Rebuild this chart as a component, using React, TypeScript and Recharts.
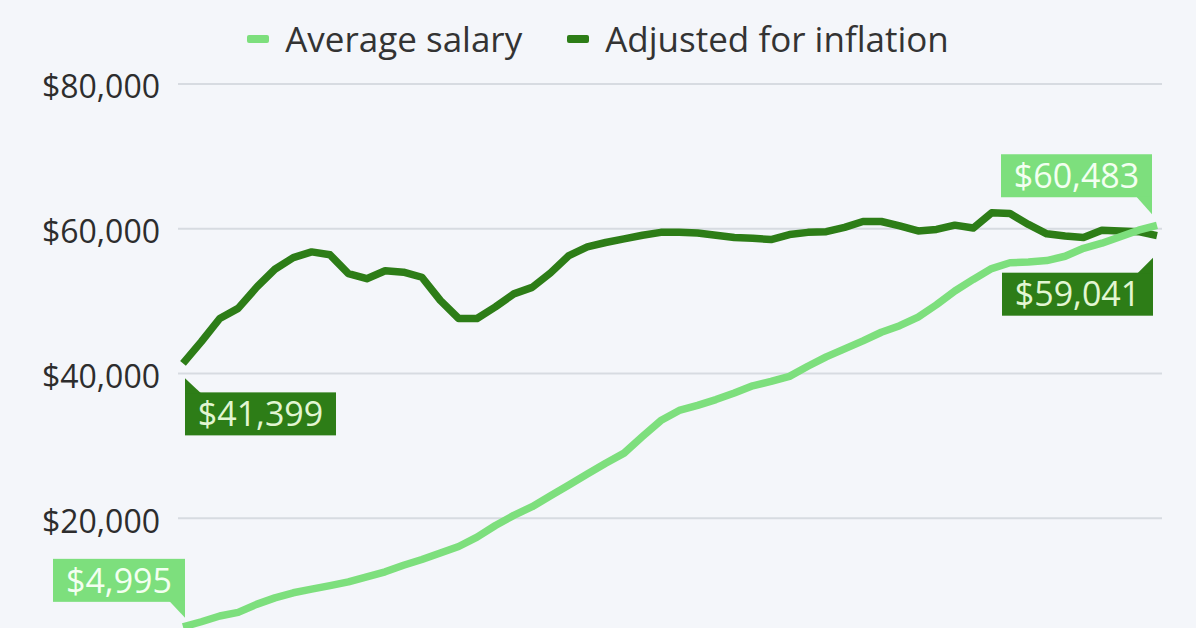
import { LineChart, Line, XAxis, YAxis, CartesianGrid, Legend, LabelList } from 'recharts'

// school years, 1959-60 to 2017-18 (biennial until 1969-70)
const years = [
  '1959-60', '1961-62', '1963-64', '1965-66', '1967-68', '1969-70', '1970-71', '1971-72',
  '1972-73', '1973-74', '1974-75', '1975-76', '1976-77', '1977-78', '1978-79', '1979-80',
  '1980-81', '1981-82', '1982-83', '1983-84', '1984-85', '1985-86', '1986-87', '1987-88',
  '1988-89', '1989-90', '1990-91', '1991-92', '1992-93', '1993-94', '1994-95', '1995-96',
  '1996-97', '1997-98', '1998-99', '1999-00', '2000-01', '2001-02', '2002-03', '2003-04',
  '2004-05', '2005-06', '2006-07', '2007-08', '2008-09', '2009-10', '2010-11', '2011-12',
  '2012-13', '2013-14', '2014-15', '2015-16', '2016-17', '2017-18',
]

const averageSalary = [
  4995, 5700, 6500, 7000, 8100, 9000, 9700, 10200, 10700, 11200, 11900, 12600, 13500,
  14300, 15200, 16100, 17400, 19000, 20400, 21600, 23100, 24600, 26100, 27600, 29000,
  31300, 33500, 34900, 35600, 36400, 37300, 38300, 38900, 39600, 41000, 42300, 43400,
  44500, 45700, 46600, 47800, 49500, 51400, 53000, 54500, 55300, 55400, 55600, 56200,
  57300, 58000, 58900, 59800, 60483,
]

const adjustedSalary = [
  41399, 44400, 47600, 49000, 51900, 54400, 56000, 56800, 56400, 53800, 53100, 54200,
  54000, 53300, 50100, 47600, 47600, 49200, 51000, 51900, 53900, 56300, 57500, 58100,
  58600, 59100, 59500, 59500, 59400, 59100, 58800, 58700, 58500, 59200, 59500, 59600,
  60200, 61000, 61000, 60400, 59700, 59900, 60500, 60100, 62200, 62100, 60600, 59300,
  59000, 58800, 59800, 59700, 59600, 59041,
]

// $0 sits below the visible area, so only these labels show
const yTicks = [20000, 40000, 60000, 80000]

const LIGHT = '#7ddf7d'
const DARK = '#2d7d17'
const FONT = '"Open Sans", sans-serif'

const data = years.map((year, i) => ({
  year,
  salary: averageSalary[i],
  adjusted: adjustedSalary[i],
}))

const fmt = (v: number) => '$' + v.toLocaleString('en-US')

type CalloutCfg = { edge: 'left' | 'right'; dx: number; above: boolean; gap: number; tip: number }

function Callout({ x, y, text, fill, color, cfg }: { x: number; y: number; text: string; fill: string; color: string; cfg: CalloutCfg }) {
  const w = text.length * 19 + 18
  const h = 43
  const ex = x + cfg.dx
  const bx = cfg.edge === 'right' ? ex - w : ex
  const by = cfg.above ? y - cfg.gap - h : y + cfg.gap
  const baseY = cfg.above ? by + h - 1 : by + 1
  const tipY = cfg.above ? y - cfg.tip : y + cfg.tip
  const inner = cfg.edge === 'right' ? ex - 16 : ex + 16
  return (
    <g>
      <rect x={bx} y={by} width={w} height={h} fill={fill} />
      <polygon points={`${ex},${baseY} ${ex},${tipY} ${inner},${baseY}`} fill={fill} />
      <text
        x={bx + w / 2}
        y={by + h / 2}
        dy="0.36em"
        textAnchor="middle"
        fill={color}
        fontSize={34}
        fontFamily={FONT}
      >
        {text}
      </text>
    </g>
  )
}

// only the first and the last point get a callout
const makeLabel = (values: number[], fill: string, color: string, first: CalloutCfg, last: CalloutCfg) =>
  (props: any) => {
    const x = props.x ?? props.viewBox?.x
    const y = props.y ?? props.viewBox?.y
    let idx = props.index
    if (idx === undefined) idx = values.indexOf(props.value)
    if (idx !== 0 && idx !== values.length - 1) return null
    const cfg = idx === 0 ? first : last
    return <Callout x={x} y={y} text={fmt(values[idx])} fill={fill} color={color} cfg={cfg} />
  }

const YTick = ({ x, y, payload }: any) => (
  <text x={x} y={y + 3} dy="0.355em" textAnchor="end" fill="#2d2d2d" fontSize={32} fontFamily={FONT}>
    {fmt(payload.value)}
  </text>
)

const legendItems = [
  { label: 'Average salary', color: LIGHT },
  { label: 'Adjusted for inflation', color: DARK },
]

const renderLegend = () => (
  <div
    style={{
      height: 84,
      display: 'flex',
      justifyContent: 'center',
      alignItems: 'flex-start',
      paddingTop: 16,
      boxSizing: 'border-box',
      fontFamily: FONT,
      fontSize: 35,
      color: '#333',
      lineHeight: '46px',
    }}
  >
    {legendItems.map((item, i) => (
      <div key={item.label} style={{ display: 'flex', alignItems: 'center', marginLeft: i ? 45 : 0 }}>
        <span style={{ width: 22, height: 8, borderRadius: 2, background: item.color, marginRight: 16 }} />
        <span>{item.label}</span>
      </div>
    ))}
  </div>
)

export default function App() {
  return (
    <div
      style={{
        position: 'absolute',
        left: 0,
        top: 0,
        width: 1196,
        height: 628,
        overflow: 'hidden',
        background: '#f4f6fa',
      }}
    >
      <LineChart width={1196} height={680} data={data} margin={{ top: 0, right: 34, bottom: 17, left: 0 }}>
        <CartesianGrid vertical={false} stroke="#d7dbe1" strokeWidth={2} />
        <XAxis dataKey="year" hide padding={{ left: 5, right: 5 }} />
        <YAxis
          domain={[0, 80000]}
          ticks={yTicks}
          interval={0}
          width={178}
          axisLine={false}
          tickLine={false}
          tickMargin={12}
          tick={<YTick />}
        />
        <Legend verticalAlign="top" content={renderLegend} wrapperStyle={{ left: 0, width: 1196 }} />
        <Line
          dataKey="adjusted"
          stroke={DARK}
          strokeWidth={7.5}
          strokeLinejoin="round"
          dot={false}
          activeDot={false}
          isAnimationActive={false}
        >
          <LabelList
            dataKey="adjusted"
            content={makeLabel(
              adjustedSalary,
              DARK,
              '#e2f6d2',
              { edge: 'left', dx: 2, above: false, gap: 29, tip: 15 },
              { edge: 'right', dx: -4, above: false, gap: 37, tip: 22 },
            )}
          />
        </Line>
        <Line
          dataKey="salary"
          stroke={LIGHT}
          strokeWidth={7.5}
          strokeLinejoin="round"
          dot={false}
          activeDot={false}
          isAnimationActive={false}
        >
          <LabelList
            dataKey="salary"
            content={makeLabel(
              averageSalary,
              LIGHT,
              '#f3fff1',
              { edge: 'right', dx: 2, above: true, gap: 25, tip: 9 },
              { edge: 'right', dx: -5, above: true, gap: 28, tip: 11 },
            )}
          />
        </Line>
      </LineChart>
    </div>
  )
}
